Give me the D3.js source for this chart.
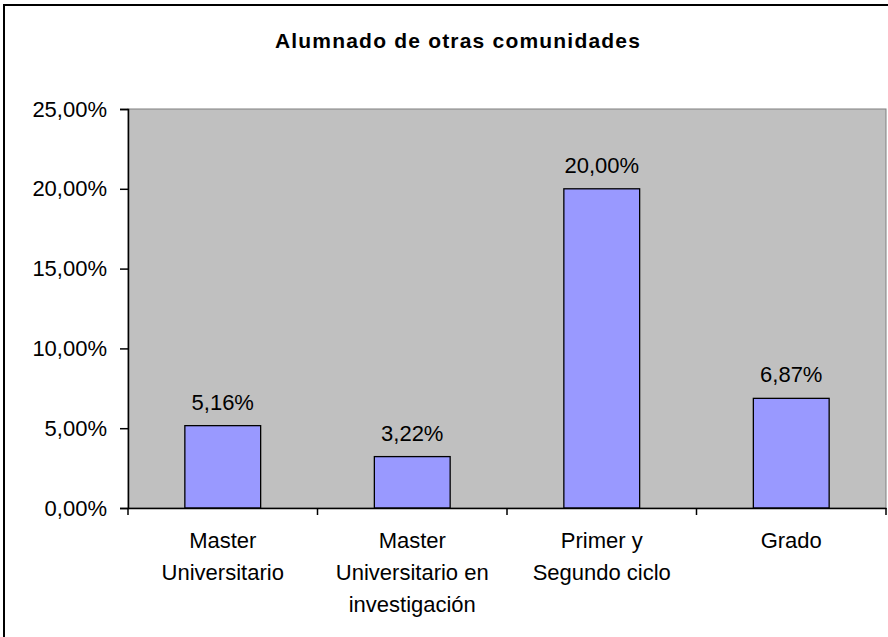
<!DOCTYPE html>
<html><head><meta charset="utf-8">
<script src="https://cdn.jsdelivr.net/npm/d3@7"></script>
<style>body{margin:0;background:#fff;}svg{display:block;font-family:"Liberation Sans",Arial,sans-serif;}</style>
</head><body>
<svg id="c" width="888" height="637"></svg>
<script>
const title = "Alumnado de otras comunidades";
const categories = [["Master","Universitario"],["Master","Universitario en","investigación"],["Primer y","Segundo ciclo"],["Grado"]];
const values = [5.16, 3.22, 20.00, 6.87];
const yTicks = [0, 5, 10, 15, 20, 25];

const svg = d3.select("#c");
const L = 128, R = 886, T = 109, B = 508;
const fmt = v => v.toFixed(2).replace(".", ",") + "%";

// outer frame
svg.append("rect").attr("x",4).attr("y",5).attr("width",900).attr("height",700)
  .attr("fill","#fff").attr("stroke","#000").attr("stroke-width",2);

svg.append("text").attr("x",458).attr("y",48).attr("text-anchor","middle")
  .attr("font-size",21).attr("font-weight","bold").attr("letter-spacing",1.2).text(title);

const x = d3.scaleBand().domain(d3.range(categories.length)).range([L,R]).paddingInner(0.6).paddingOuter(0.3);
const xb = d3.scaleBand().domain(d3.range(categories.length)).range([L,R]);
const y = d3.scaleLinear().domain([0,25]).range([B,T]);

svg.append("rect").attr("x",L).attr("y",T).attr("width",R-L).attr("height",B-T)
  .attr("fill","#C0C0C0").attr("stroke","#808080").attr("stroke-width",1);

svg.selectAll("rect.bar").data(values).join("rect").attr("class","bar")
  .attr("x",(d,i)=>x(i)).attr("width",x.bandwidth())
  .attr("y",d=>y(d)).attr("height",d=>B-y(d))
  .attr("fill","#9999FF").attr("stroke","#000").attr("stroke-width",1.3);

svg.selectAll("text.val").data(values).join("text").attr("class","val")
  .attr("x",(d,i)=>x(i)+x.bandwidth()/2).attr("y",d=>y(d)-16)
  .attr("text-anchor","middle").attr("font-size",22).text(fmt);

// y axis
const ya = svg.append("g").attr("transform",`translate(${L},0)`)
  .call(d3.axisLeft(y).tickValues(yTicks).tickFormat(fmt).tickSize(8).tickPadding(13));
ya.select(".domain").attr("stroke","#000").attr("stroke-width",1.5);
ya.selectAll("line").attr("stroke","#000").attr("stroke-width",1.5);
ya.selectAll("text").attr("font-size",22).attr("font-family","Liberation Sans, Arial, sans-serif").attr("fill","#000");

// x axis
const xa = svg.append("g").attr("transform",`translate(0,${B})`)
  .call(d3.axisBottom(xb).tickValues([]).tickSizeOuter(0));
xa.select(".domain").attr("stroke","#000").attr("stroke-width",1.5);
const bounds = d3.range(categories.length+1).map(i => i<categories.length ? xb(i) : R);
xa.selectAll("line.tk").data(bounds).join("line").attr("class","tk")
  .attr("x1",d=>d).attr("x2",d=>d).attr("y1",0).attr("y2",7).attr("stroke","#000").attr("stroke-width",1.5);

categories.forEach((lines,i)=>{
  const t = svg.append("text").attr("text-anchor","middle").attr("font-size",22);
  lines.forEach((ln,j)=>{
    t.append("tspan").attr("x",xb(i)+xb.bandwidth()/2).attr("y",B+40+j*32).text(ln);
  });
});
</script>
</body></html>
